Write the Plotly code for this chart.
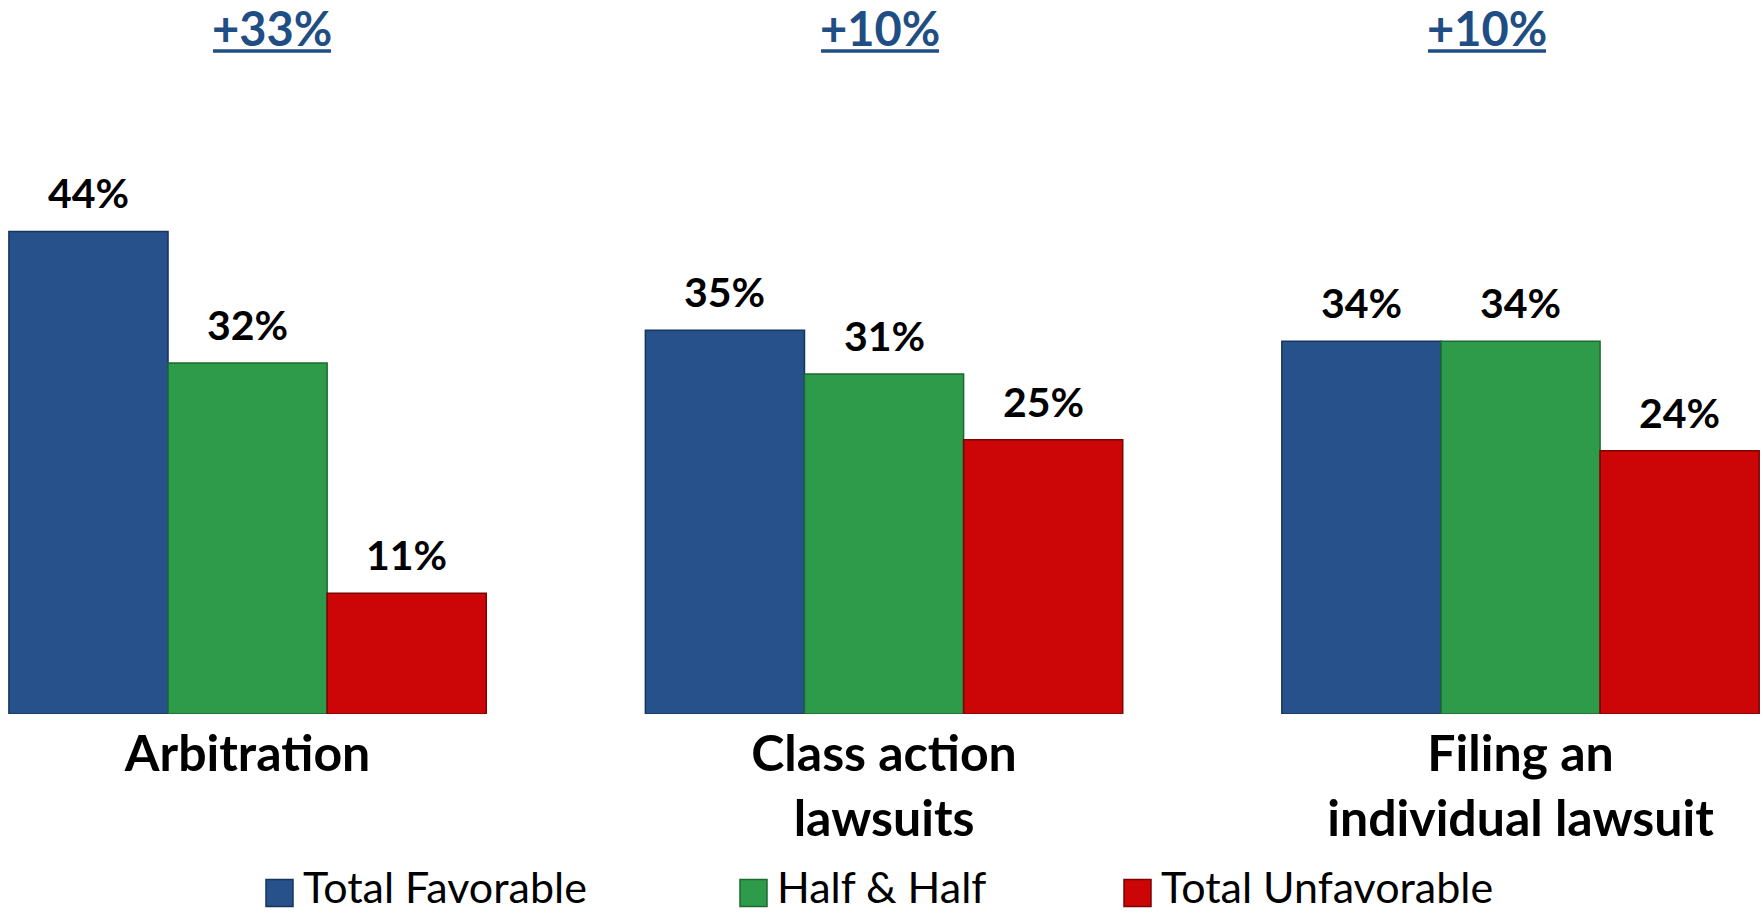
import plotly.graph_objects as go

categories = ["Arbitration", "Class action<br>lawsuits", "Filing an<br>individual lawsuit"]
series_names = ["Total Favorable", "Half & Half", "Total Unfavorable"]
favorable = [44, 35, 34]
half_half = [32, 31, 34]
unfavorable = [11, 25, 24]
net_labels = ["+33%", "+10%", "+10%"]

colors = ["#27518A", "#2E9B4A", "#CC0606"]
edge_colors = ["#16345C", "#1C6A31", "#7A0303"]
series_values = [favorable, half_half, unfavorable]
offsets = [-0.375, -0.125, 0.125]
bar_w = 0.25
FONT = "Lato"

W, H = 1763, 915
ML, MR, MT, MB = 0, 0, 56, 201
x_range = [-0.389, 2.381]
y_range = [0, 60]

fig = go.Figure()
xs = list(range(len(categories)))
for name, vals, col, ec, off in zip(series_names, series_values, colors, edge_colors, offsets):
    fig.add_trace(go.Bar(
        x=xs, y=vals, name=name, width=bar_w, offset=off,
        marker=dict(color=col, line=dict(color=ec, width=1.5)),
        showlegend=False, hoverinfo="name+y",
    ))

annotations = []
# value labels
for vals, off in zip(series_values, offsets):
    for i, v in enumerate(vals):
        annotations.append(dict(
            x=i + off + bar_w / 2, y=v, xref="x", yref="y",
            text=f"{v}%", showarrow=False, yanchor="bottom", yshift=12,
            font=dict(family=FONT, size=41, color="#000000", weight="bold"),
        ))

# net labels at top (pixel positions converted to paper)
net_px = [272, 880, 1487]
plot_h = H - MT - MB
def px_to_paper_y(py):
    return (H - MB - py) / plot_h
shapes = []
for lbl, px in zip(net_labels, net_px):
    annotations.append(dict(
        x=px / W, y=px_to_paper_y(28), xref="paper", yref="paper",
        text=f"<b>{lbl}</b>", showarrow=False, xanchor="center", yanchor="middle",
        font=dict(family=FONT, size=47, color="#1F4E84"),
    ))
    shapes.append(dict(
        type="line", xref="paper", yref="paper",
        x0=(px - 59) / W, x1=(px + 59) / W,
        y0=px_to_paper_y(51), y1=px_to_paper_y(51),
        line=dict(color="#1F4E84", width=3.5),
    ))

# legend (manual)
legend_sq = [266, 740, 1124]
sq = 27
legend_y = 893
for name, col, ec, sx in zip(series_names, colors, edge_colors, legend_sq):
    shapes.append(dict(
        type="rect", xref="paper", yref="paper",
        x0=sx / W, x1=(sx + sq) / W,
        y0=px_to_paper_y(legend_y + sq / 2), y1=px_to_paper_y(legend_y - sq / 2),
        fillcolor=col, line=dict(color=ec, width=1.5),
    ))
    annotations.append(dict(
        x=(sx + sq + 8) / W, y=px_to_paper_y(886), xref="paper", yref="paper",
        text=name, showarrow=False, xanchor="left", yanchor="middle",
        font=dict(family=FONT, size=43, color="#000000"),
    ))

fig.update_layout(
    width=W, height=H,
    margin=dict(l=ML, r=MR, t=MT, b=MB),
    paper_bgcolor="white", plot_bgcolor="white",
    barmode="overlay",
    xaxis=dict(range=x_range, tickvals=xs, ticktext=[f"<b>{c}</b>" for c in categories],
               showgrid=False, zeroline=False, showline=False, ticks="",
               tickfont=dict(family=FONT, size=50, color="#000000"),
               ticklabelstandoff=6),
    yaxis=dict(range=y_range, visible=False, showgrid=False, zeroline=False),
    annotations=annotations, shapes=shapes,
)

fig.write_html("out.html", config={"displayModeBar": False},
               post_script="document.body.style.margin='0';document.body.style.overflow='hidden';")
